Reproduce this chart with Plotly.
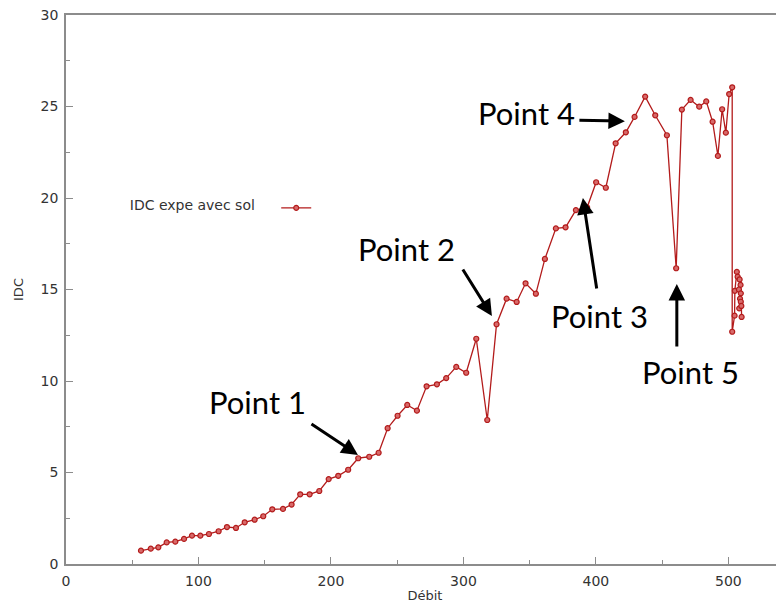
import plotly.graph_objects as go

debit = [56.6, 64.0, 69.7, 76.0, 82.5, 89.1, 95.1, 101.4, 107.9, 115.2, 121.5, 128.3,
         134.9, 142.4, 148.9, 155.7, 163.8, 170.3, 176.8, 183.9, 191.2, 198.3, 205.5, 213.0,
         220.6, 228.9, 236.0, 242.8, 250.3, 257.6, 264.9, 272.2, 280.0, 287.0, 294.6, 302.1,
         309.7, 318.0, 325.0, 332.6, 340.2, 346.9, 354.7, 361.5, 369.8, 377.1, 384.9, 393.4,
         400.2, 407.5, 414.9, 422.6, 429.2, 437.2, 444.8, 453.6, 460.6, 464.9, 471.5, 478.0,
         483.3, 488.1, 492.1, 495.3, 498.1, 500.6, 502.9, 502.9, 504.7, 504.9, 506.4, 507.0,
         508.5, 509.2, 508.0, 509.4, 508.8, 509.4, 508.2, 509.8, 510.0]
idc = [0.73, 0.84, 0.91, 1.18, 1.22, 1.37, 1.55, 1.55, 1.64, 1.79, 2.02, 1.97,
       2.28, 2.42, 2.61, 2.99, 3.01, 3.25, 3.81, 3.81, 3.99, 4.64, 4.82, 5.15,
       5.78, 5.86, 6.08, 7.42, 8.10, 8.69, 8.38, 9.71, 9.82, 10.16, 10.77, 10.45,
       12.31, 7.87, 13.10, 14.50, 14.32, 15.34, 14.77, 16.67, 18.34, 18.40, 19.34, 19.49,
       20.86, 20.56, 22.99, 23.59, 24.43, 25.54, 24.52, 23.43, 16.16, 24.83, 25.36, 24.99,
       25.28, 24.17, 22.30, 24.85, 23.57, 25.68, 26.05, 12.69, 13.57, 14.93, 15.96, 15.70,
       15.55, 15.25, 15.00, 14.79, 14.50, 14.33, 13.97, 14.10, 13.50]

series_name = "IDC expe avec sol"
x_title = "Débit"
y_title = "IDC"

labels = ["Point 1", "Point 2", "Point 3", "Point 4", "Point 5"]
label_pos = [(144.9, 8.85), (257.4, 17.2), (403.0, 13.55), (347.9, 24.64), (471.7, 10.49)]
arrow_heads = [(220.4, 5.96), (321.5, 13.55), (390.2, 20.0), (421.9, 24.2), (461.1, 15.3)]
arrow_offsets = [(-48, -32), (-30, -48), (14, 92), (-47, -1), (0, 64)]

fig = go.Figure()
fig.add_trace(go.Scatter(
    x=debit, y=idc, mode="lines+markers", name="",
    line=dict(color="#b31b1b", width=1.3),
    marker=dict(symbol="circle", size=5, color="#d86a6a",
                line=dict(color="#b31b1b", width=1.2)),
    showlegend=True,
))

annotations = []
for (hx, hy), (ax, ay) in zip(arrow_heads, arrow_offsets):
    annotations.append(dict(x=hx, y=hy, xref="x", yref="y", ax=ax, ay=ay,
                            showarrow=True, arrowhead=2, arrowsize=1.1, arrowwidth=3,
                            arrowcolor="black", text=""))
for t, (tx, ty) in zip(labels, label_pos):
    annotations.append(dict(x=tx, y=ty, xref="x", yref="y", text=t, showarrow=False,
                            font=dict(family="Lato", size=31, color="black")))

axis_common = dict(
    showline=True, linecolor="#8c8c8c", linewidth=1.5,
    ticks="inside", ticklen=7, tickcolor="#8c8c8c", tickwidth=1,
    showgrid=False, zeroline=False, automargin=False,
    ticklabeloverflow="allow",
    tickfont=dict(family="DejaVu Sans", size=14, color="#333333"),
)

# the page body adds an 8px offset, so the figure is 8px smaller and margins shifted
fig.update_layout(
    width=776, height=595,
    margin=dict(l=58, r=0, t=7, b=39),
    plot_bgcolor="white", paper_bgcolor="white",
    xaxis=dict(range=[0, 542], dtick=100, tick0=0, mirror=True, ticklabelstandoff=3,
               minor=dict(dtick=50, ticks="inside", ticklen=4, tickcolor="#8c8c8c"),
               title=dict(text=x_title, standoff=3,
                          font=dict(family="DejaVu Sans", size=13, color="#333333")),
               **axis_common),
    yaxis=dict(range=[0, 30], dtick=5, tick0=0, ticklabelstandoff=3,
               minor=dict(dtick=2.5, ticks="inside", ticklen=4, tickcolor="#8c8c8c"),
               title=dict(text=y_title, standoff=14,
                          font=dict(family="DejaVu Sans", size=13, color="#333333")),
               **axis_common),
    legend=dict(x=0.086, y=0.648, xanchor="left", yanchor="middle",
                bgcolor="rgba(0,0,0,0)",
                title=dict(text=series_name + "\u00a0\u00a0\u00a0", side="left",
                           font=dict(family="DejaVu Sans", size=14, color="#333333")),
                font=dict(family="DejaVu Sans", size=14)),
    annotations=annotations,
)

fig.write_html("out.html")
